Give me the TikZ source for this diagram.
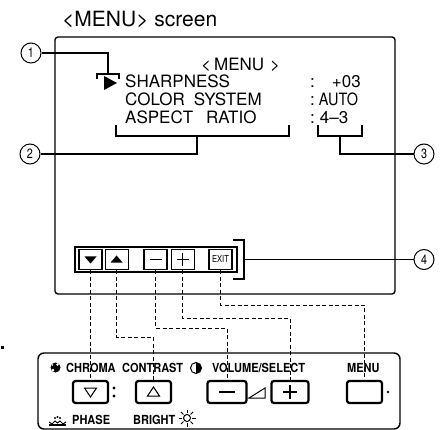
\documentclass[tikz,border=0pt]{standalone}
\usepackage{fontspec}
\setmainfont{TeX Gyre Heros}
\newfontfamily\panelfont{TeX Gyre Heros}[FakeStretch=0.88]
\newfontfamily\narrowfont{TeX Gyre Heros}[FakeStretch=0.8]
\usetikzlibrary{positioning, calc}

\begin{document}
\begin{tikzpicture}[
  x=1pt, y=-1pt,
  menutext/.style={anchor=base west, inner sep=0pt, font=\fontsize{17}{20}\selectfont},
  paneltext/.style={anchor=base west, inner sep=0pt, font=\panelfont\bfseries\fontsize{12.5}{13}\selectfont},
  callout/.style={draw, circle, line width=1pt, minimum size=20pt, inner sep=0pt,
                  font=\narrowfont\fontsize{13.5}{14}\selectfont},
  btn/.style={draw, line width=1.1pt, minimum width=23pt, minimum height=20pt, inner sep=0pt},
  pbtn/.style={draw, line width=2.2pt, rounded corners=2.5pt, minimum width=35pt,
               minimum height=22pt, inner sep=0pt},
  lead/.style={line width=1.1pt},
  dlink/.style={line width=1pt, dash pattern=on 4pt off 2.5pt},
]
\useasboundingbox (0,0) rectangle (444,430);

% Title and screen
\node[anchor=base west, inner sep=0pt, font=\fontsize{21}{24}\selectfont] (title) at (62,27) {<MENU> screen};
\node[draw, line width=1.4pt, rounded corners=3pt, minimum width=340pt, minimum height=257pt,
      inner sep=0pt] (screen) at (225,165.5) {};

% Menu lines
\node[menutext] (mhead) at (201,71) {<\hspace{3pt}MENU\hspace{6pt}>};
\node[menutext] (sharp) at (125,88) {SHARPNESS};
\node[menutext] (color) at (125,106) {COLOR\hspace{9pt}SYSTEM};
\node[menutext] (aspect) at (125,124) {ASPECT\hspace{13pt}RATIO};
\node[menutext] (vsharp) at (310,88) {:\hspace{17pt}+03};
\node[menutext] (vcolor) at (310,106) {:\hspace{4pt}\scalebox{0.85}[1]{AUTO}};
\node[menutext] (vaspect) at (310,124) {:\hspace{5pt}4--3};
\fill (104,76) -- (117,83) -- (104,90) -- cycle;

% Brackets
\draw[lead] (97,79) -- (97,74) -- (119,74) -- (119,79);
\coordinate (brC) at (108,74);
\draw[lead] (116,125) -- (116,136) -- (289,136) -- (289,125);
\coordinate (brA) at (197,136);
\draw[lead] (318,125) -- (318,136) -- (362,136) -- (362,125);
\coordinate (brB) at (340,136);
\draw[lead] (233,240) -- (244,240) -- (244,279) -- (233,279);
\coordinate (brD) at (244,259.5);

% Callouts
\node[callout] (c1) at (31,53) {1};
\node[callout] (c2) at (30,154) {2};
\node[callout] (c3) at (424,154) {3};
\node[callout] (c4) at (424,259.5) {4};
\draw[lead] (c1.east) -| (brC);
\draw[lead] (c2.east) -| (brA);
\draw[lead] (c3.west) -| (brB);
\draw[lead] (brD) -- (c4.west);

% On-screen buttons
\node[draw, line width=1.1pt, minimum width=162pt, minimum height=25pt, inner sep=0pt] (bar) at (156,259.5) {};
\node[btn] (bdown) at (90.5,259.5) {};
\node[btn, right=2pt of bdown] (bup) {};
\node[btn] (bminus) at (155.5,259.5) {};
\node[btn, right=3pt of bminus] (bplus) {};
\node[btn, font=\narrowfont\fontsize{9.5}{10}\selectfont] (bexit) at (220.5,259.5) {EXIT};
\fill[shift={(bdown.center)}] (-6,-3) -- (6,-3) -- (0,4) -- cycle;
\fill[shift={(bup.center)}] (-6,3) -- (6,3) -- (0,-4) -- cycle;
\draw[line width=1.1pt, shift={(bminus.center)}] (-6,0) -- (6,0);
\draw[line width=1.1pt, shift={(bplus.center)}] (-6,0) -- (6,0) (0,-6) -- (0,6);

% Panel
\node[draw, line width=1.4pt, rounded corners=6pt, minimum width=362pt, minimum height=76pt,
      inner sep=0pt] (panel) at (219,391) {};
\node[pbtn] (pdown) at (90.5,392) {};
\node[pbtn] (pup) at (153.5,392) {};
\node[pbtn, minimum width=39pt] (pminus) at (227,392) {};
\node[pbtn, minimum width=37pt] (pplus) at (290,392) {};
\node[pbtn] (pmenu) at (364.5,392) {};
\draw[line width=1pt, shift={(pdown.center)}] (-6,-4) -- (6,-4) -- (0,5) -- cycle;
\draw[line width=1pt, shift={(pup.center)}] (-6,4) -- (6,4) -- (0,-5) -- cycle;
\draw[line width=1.4pt, shift={(pminus.center)}] (-8,0) -- (8,0);
\draw[line width=1.4pt, shift={(pplus.center)}] (-7,0) -- (7,0) (0,-7) -- (0,7);
\draw[line width=1pt] (249,398) -- (265,398) -- (265,388) -- cycle;
\fill (114,388) circle (1.6) (114,396) circle (1.6);
\fill (388,392) circle (1.4);

% Panel labels and icons
\node[paneltext] (lchroma) at (66,372) {CHROMA};
\node[paneltext] (lcontrast) at (122,372) {CONTRAST};
\node[paneltext] (lvolume) at (212,372) {VOLUME/SELECT};
\node[paneltext] (lmenu) at (347,372) {MENU};
\node[paneltext] (lphase) at (72,424) {PHASE};
\node[paneltext] (lbright) at (133,424) {BRIGHT};
\fill (55.5,367.5) circle (5);
\fill[white] (53,370) circle (1.5) (57.5,364.5) circle (1.3) (52.5,365) circle (0.8);
\draw[line width=1pt] (196,368) circle (5.5);
\begin{scope}
  \clip (196,360) rectangle (203,376);
  \fill (196,368) circle (5.5);
\end{scope}
\draw[line width=1pt] (187,418) circle (3.5);
\foreach \a in {0,45,...,315}
  \draw[line width=1pt] (187,418) ++(\a:5) -- ++(\a:3.5);
\draw[line width=1.3pt] (49,425) -- (66,425);
\draw[line width=1pt] (49,422) -- (52,424) -- (55,421) -- (57.5,423) -- (60,421) -- (63,424) -- (66,422);
\fill (55,418) circle (1.1) (57.5,417) circle (1.2) (60,418) circle (1.1);
\fill (1,346) rectangle (4,348.5);

% Dashed links
\coordinate (jogU) at (0,337);
\coordinate (jogM) at (0,328);
\coordinate (jogP) at (0,318);
\coordinate (jogE) at (0,305);
\draw[dlink] (bdown.south) -- (pdown.north);
\draw[dlink] (bup.south) -- (bup.south |- jogU) -| (pup.north);
\draw[dlink] (bminus.south) -- (bminus.south |- jogM) -| (pminus.north);
\draw[dlink] (bplus.south) -- (bplus.south |- jogP) -| (pplus.north);
\draw[dlink] (bexit.south) -- (bexit.south |- jogE) -| (pmenu.north);

\end{tikzpicture}
\end{document}
